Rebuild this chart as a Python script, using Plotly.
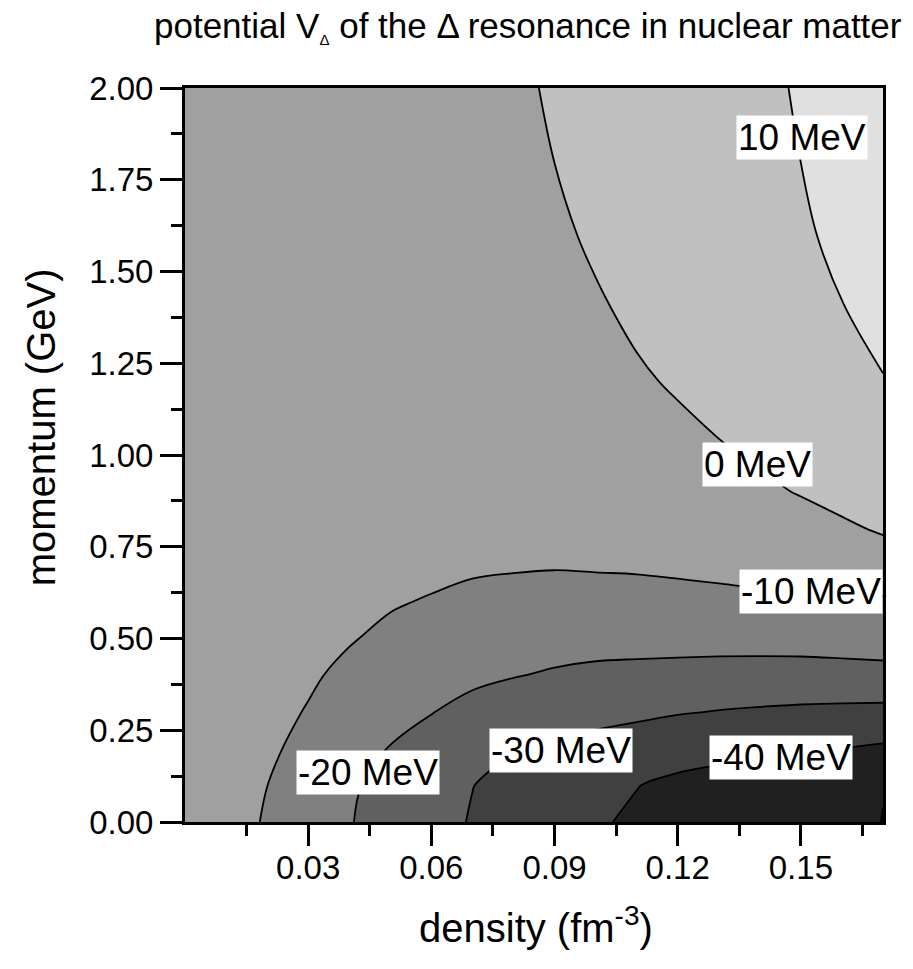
import plotly.graph_objects as go

# ---- data ----
density = [0.00, 0.01, 0.02, 0.03, 0.04, 0.05, 0.06, 0.07, 0.08,
           0.09, 0.10, 0.11, 0.12, 0.13, 0.14, 0.15, 0.16, 0.17]
momentum = [0.0, 0.1, 0.2, 0.3, 0.4, 0.5, 0.6, 0.7, 0.8, 0.9,
            1.0, 1.2, 1.4, 1.6, 1.8, 2.0]

# potential V_Delta (MeV), one row per momentum value
V_p00 = [-1, -6.0, -10.87, -15.2, -19.57, -23.33, -27.04, -30.56, -33.36, -36.16, -39.3, -40.96, -42.48, -44.0, -45.5, -47.04, -48.56, -50.08]
V_p01 = [-1, -5.48, -9.955, -14.42, -18.88, -22.65, -26.18, -29.87, -32.22, -34.63, -37.04, -39.84, -41.32, -43.03, -44.74, -46.45, -48.16, -49.87]
V_p02 = [-1, -4.8, -8.47, -12.6, -17.93, -20.23, -22.98, -25.72, -29.75, -31.35, -32.6, -33.87, -37.44, -37.52, -38.09, -38.9, -40.1, -41.3]
V_p03 = [-1, -4.3, -7.16, -10.54, -15.0, -17.67, -19.78, -22.12, -24.58, -26.85, -27.6, -28.5, -29.35, -30.33, -30.99, -31.54, -31.87, -32.3]
V_p04 = [-1, -3.9, -6.3, -8.73, -12.08, -14.73, -16.75, -18.53, -19.65, -20.8, -22.04, -22.55, -23.07, -23.49, -23.77, -23.92, -23.74, -23.1]
V_p05 = [-1, -3.6, -5.8, -7.5, -9.38, -11.97, -13.7, -15.36, -16.24, -16.96, -16.67, -16.75, -16.67, -16.65, -16.52, -16.23, -15.61, -15.35]
V_p06 = [-1, -3.3, -5.4, -6.8, -8.0, -9.2, -10.67, -12.07, -12.73, -13.2, -13.9, -13.8, -13.5, -12.9, -12.0, -11.3, -10.9, -10.9]
V_p07 = [-1, -3.1, -5.1, -6.3, -7.0, -7.0, -7.62, -8.78, -9.23, -9.48, -9.03, -8.73, -7.94, -7.1, -6.6, -6.66, -6.2, -4.91]
V_p08 = [-1, -2.9, -4.8, -6.0, -6.5, -6.5, -7.0, -8.0, -8.7, -8.5, -7.0, -6.5, -4.5, -4.5, -4.2, -3.36, -1.5, 1.09]
V_p09 = [-1, -2.75, -4.65, -5.85, -6.35, -6.35, -6.75, -7.5, -7.95, -7.5, -5.75, -4.75, -3.0, -2.7, -1.58, 0.5, 3.19, 3.5]
V_p10 = [-1, -2.6, -4.5, -5.7, -6.2, -6.2, -6.5, -7.0, -7.2, -6.5, -4.5, -3.0, -1.46, -1.009, 1.05, 2.2, 4.5, 5.5]
V_p12 = [-1, -2.4, -4.2, -5.4, -5.9, -5.9, -6.0, -6.0, -5.7, -4.5, -2.5, -0.6, 0.5, 3.5, 3.8, 4.5, 7.0, 9.48]
V_p14 = [-1, -2.2, -3.9, -5.1, -5.6, -5.6, -5.5, -5.0, -4.3, -2.7, -0.55, 0.9, 1.0, 3.9, 4.0, 6.3, 9.63, 14.0]
V_p16 = [-1, -2.0, -3.6, -4.8, -5.3, -5.3, -5.0, -4.0, -3.0, -0.93, 0.76, 1.3, 1.4, 4.2, 4.3, 8.1, 13.0, 17.0]
V_p18 = [-1, -1.8, -3.3, -4.5, -5.0, -5.0, -4.5, -3.2, -1.8, 0.02, 1.2, 1.6, 1.8, 4.5, 4.6, 10.04, 15.5, 19.5]
V_p20 = [-1, -1.6, -3.0, -4.2, -4.7, -4.7, -4.0, -2.5, -0.816, 0.5, 1.6, 1.9, 2.2, 4.7, 4.87, 12.2, 17.5, 21.5]

levels_start, levels_end, levels_step = -50, 10, 10
band_grays = ["#000000", "#202020", "#404040", "#606060",
              "#808080", "#a0a0a0", "#c0c0c0", "#e0e0e0"]

label_text = ["10 MeV", "0 MeV", "-10 MeV", "-20 MeV", "-30 MeV", "-40 MeV"]
label_x = [0.1502, 0.1395, 0.1524, 0.0446, 0.0915, 0.1451]
label_y = [1.866, 0.973, 0.627, 0.136, 0.196, 0.177]

x_tick_vals = [0.03, 0.06, 0.09, 0.12, 0.15]
x_tick_text = ["0.03", "0.06", "0.09", "0.12", "0.15"]
x_minor_vals = [0.015, 0.045, 0.075, 0.105, 0.135, 0.165]
y_tick_vals = [0.0, 0.25, 0.5, 0.75, 1.0, 1.25, 1.5, 1.75, 2.0]
y_tick_text = ["0.00", "0.25", "0.50", "0.75", "1.00", "1.25", "1.50", "1.75", "2.00"]
y_minor_vals = [0.125, 0.375, 0.625, 0.875, 1.125, 1.375, 1.625, 1.875]

# ---- figure ----
z = [V_p00, V_p01, V_p02, V_p03, V_p04, V_p05, V_p06, V_p07, V_p08, V_p09,
     V_p10, V_p12, V_p14, V_p16, V_p18, V_p20]

n = len(band_grays) - 1
colorscale = [[i / n, c] for i, c in enumerate(band_grays)]

FONT = "Liberation Sans, Arial, sans-serif"

fig = go.Figure()
fig.add_trace(go.Contour(
    x=density, y=momentum, z=z,
    autocontour=False,
    contours=dict(start=levels_start, end=levels_end, size=levels_step,
                  coloring="fill", showlabels=False),
    colorscale=colorscale,
    showscale=False,
    line=dict(color="black", width=1.8, smoothing=1),
    hoverinfo="skip",
))

for t, lx, ly in zip(label_text, label_x, label_y):
    fig.add_annotation(x=lx, y=ly, xref="x", yref="y", text=t,
                       showarrow=False, bgcolor="white", borderpad=1,
                       font=dict(family=FONT, size=37, color="black"),
                       xanchor="center", yanchor="middle")

fig.add_annotation(
    x=0.492, y=1.083, xref="paper", yref="paper",
    text="potential V<sub><span style=\"font-size:15px\">Δ</span></sub> of the Δ resonance in nuclear matter",
    showarrow=False, xanchor="center", yanchor="middle",
    font=dict(family=FONT, size=35, color="black"))
fig.add_annotation(
    x=0.503, y=-0.140, xref="paper", yref="paper",
    text="density (fm<sup>-3</sup>)",
    showarrow=False, xanchor="center", yanchor="middle",
    font=dict(family=FONT, size=40, color="black"))
fig.add_annotation(
    x=-0.206, y=0.538, xref="paper", yref="paper",
    text="momentum (GeV)", textangle=-90,
    showarrow=False, xanchor="center", yanchor="middle",
    font=dict(family=FONT, size=40, color="black"))

fig.update_xaxes(range=[0, 0.17], tickmode="array", tickvals=x_tick_vals,
                 ticktext=x_tick_text, ticks="outside", ticklen=21,
                 tickwidth=3, tickcolor="black", showline=True, linewidth=3,
                 linecolor="black", mirror=True, showgrid=False, zeroline=False,
                 ticklabelstandoff=-7,
                 tickfont=dict(family=FONT, size=33, color="black"),
                 minor=dict(tickmode="array", tickvals=x_minor_vals, ticks="outside",
                            ticklen=11, tickwidth=3, tickcolor="black", showgrid=False))
fig.update_yaxes(range=[0, 2.0], tickmode="array", tickvals=y_tick_vals,
                 ticktext=y_tick_text, ticks="outside", ticklen=22,
                 tickwidth=3, tickcolor="black", showline=True, linewidth=3,
                 linecolor="black", mirror=True, showgrid=False, zeroline=False,
                 tickfont=dict(family=FONT, size=33, color="black"),
                 minor=dict(tickmode="array", tickvals=y_minor_vals, ticks="outside",
                            ticklen=11, tickwidth=3, tickcolor="black", showgrid=False))

fig.update_layout(width=913, height=969,
                  margin=dict(l=185, r=30, t=88, b=147, pad=0),
                  paper_bgcolor="white", plot_bgcolor="white",
                  showlegend=False)

fig.write_html("out.html")
